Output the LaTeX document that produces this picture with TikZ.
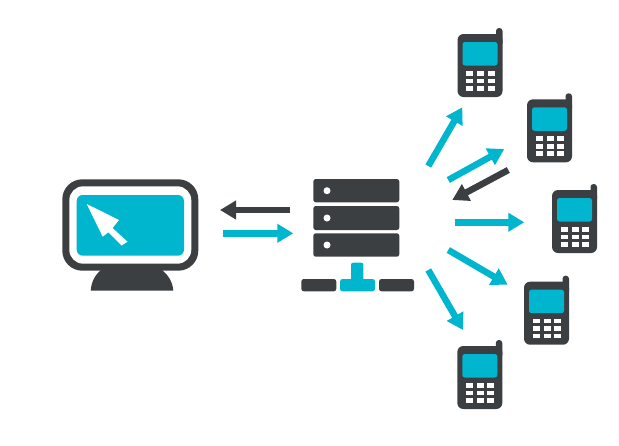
\documentclass[tikz,border=0pt]{standalone}
\usetikzlibrary{arrows.meta}
\definecolor{darkc}{HTML}{3C3F42}
\definecolor{tealc}{HTML}{00B5CE}
\tikzset{
  x=1pt,y=-1pt,
  flow/.style={line width=6.5pt,-{Triangle[length=16pt,width=18pt]}},
  tealflow/.style={flow,draw=tealc},
  darkflow/.style={flow,draw=darkc},
  darkfill/.style={fill=darkc,draw=none},
  tealfill/.style={fill=tealc,draw=none},
  rack/.style={darkfill,rounded corners=2.5pt},
  phone/.pic={
    \fill[darkc,rounded corners=6pt] (0,0) rectangle (45,63);
    \fill[darkc,rounded corners=3pt] (38.5,-6) rectangle (45,12);
    \fill[tealc,rounded corners=2.5pt] (5,8) rectangle (40,31.5);
    \foreach \kx in {8.5,19.5,30}{
      \foreach \ky in {37,44.5,52}{
        \fill[white] (\kx,\ky) rectangle ++(7,4.7);
      }
    }
  }
}
\begin{document}
\begin{tikzpicture}
\useasboundingbox (0,0) rectangle (619,445);
\fill[white] (0,0) rectangle (619,445);
% monitor
\fill[darkc] (90.7,290.7) .. controls (91.5,281) and (95,275) .. (102,269) -- (161,269) .. controls (168,275) and (172.5,281) .. (173.3,290.7) -- cycle;
\fill[darkc,rounded corners=20pt] (62.3,179.3) rectangle (198.3,270.7);
\fill[white,rounded corners=14pt] (69.3,186.3) rectangle (191.3,263.7);
\fill[tealc,rounded corners=6pt] (76.7,195) rectangle (184,255.7);
\fill[white] (86.7,204) -- (119,220) -- (112.5,228) -- (127.5,241.7) -- (121.7,245.5) -- (108.3,232.3) -- (102.7,236.7) -- cycle;
% server
\fill[rack] (313.3,179) rectangle (399.3,202.3);
\fill[rack] (313.3,206) rectangle (399.3,230);
\fill[rack] (313.3,233.3) rectangle (399.3,256.7);
\foreach \dy in {190.7,218,245}{\fill[white] (327,\dy) circle (3.5);}
\fill[rack] (301.3,279) rectangle (336.3,291.3);
\fill[rack] (379,279) rectangle (414,291.3);
\fill[tealc,rounded corners=2.5pt] (340,279) rectangle (375,291.3);
\fill[tealc,rounded corners=2pt] (351,262.7) rectangle (363.3,283);
% phones
\pic at (457.5,34) {phone};
\pic at (527,99.3) {phone};
\pic at (552,190) {phone};
\pic at (524,281.7) {phone};
\pic at (457.3,346) {phone};
% connector ends
\coordinate (monIn) at (220,210);
\coordinate (srvOut) at (290,210);
\coordinate (monOut) at (223.3,233.3);
\coordinate (srvIn) at (293.3,233.3);
\coordinate (t1) at (428.3,166);
\coordinate (h1) at (462.3,107.3);
\coordinate (t2) at (448.3,180);
\coordinate (h2) at (504.3,149);
\coordinate (t2b) at (508.3,170);
\coordinate (h2b) at (452.3,200);
\coordinate (t3) at (455,222.3);
\coordinate (h3) at (524.3,222.3);
\coordinate (t4) at (448.3,250);
\coordinate (h4) at (507.7,284.7);
\coordinate (t5) at (428.3,270);
\coordinate (h5) at (463,330);
\draw[darkflow] (srvOut) -- (monIn);
\draw[tealflow] (monOut) -- (srvIn);
\draw[tealflow] (t1) -- (h1);
\draw[tealflow] (t2) -- (h2);
\draw[darkflow] (t2b) -- (h2b);
\draw[tealflow] (t3) -- (h3);
\draw[tealflow] (t4) -- (h4);
\draw[tealflow] (t5) -- (h5);
\end{tikzpicture}
\end{document}
